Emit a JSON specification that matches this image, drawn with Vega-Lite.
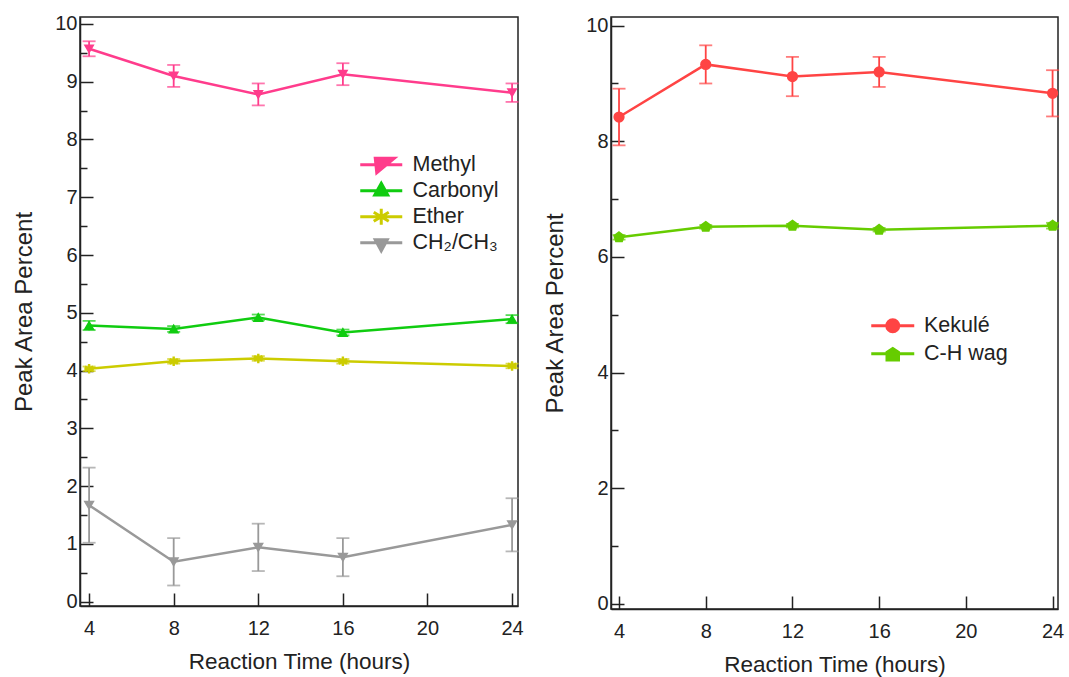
{
  "$schema": "https://vega.github.io/schema/vega-lite/v6.json",
  "background": "white",
  "padding": {"left": 12, "top": 13, "right": 0, "bottom": 5},
  "datasets": {
    "d": [
      {"panel": "A", "series": "Methyl", "hours": 4, "value": 9.57, "err": 0.13},
      {"panel": "A", "series": "Methyl", "hours": 8, "value": 9.10, "err": 0.19},
      {"panel": "A", "series": "Methyl", "hours": 12, "value": 8.78, "err": 0.19},
      {"panel": "A", "series": "Methyl", "hours": 16, "value": 9.13, "err": 0.19},
      {"panel": "A", "series": "Methyl", "hours": 24, "value": 8.81, "err": 0.16},
      {"panel": "A", "series": "Carbonyl", "hours": 4, "value": 4.78, "err": 0.08},
      {"panel": "A", "series": "Carbonyl", "hours": 8, "value": 4.72, "err": 0.05},
      {"panel": "A", "series": "Carbonyl", "hours": 12, "value": 4.92, "err": 0.05},
      {"panel": "A", "series": "Carbonyl", "hours": 16, "value": 4.66, "err": 0.05},
      {"panel": "A", "series": "Carbonyl", "hours": 24, "value": 4.89, "err": 0.07},
      {"panel": "A", "series": "Ether", "hours": 4, "value": 4.03, "err": 0.04},
      {"panel": "A", "series": "Ether", "hours": 8, "value": 4.16, "err": 0.04},
      {"panel": "A", "series": "Ether", "hours": 12, "value": 4.21, "err": 0.04},
      {"panel": "A", "series": "Ether", "hours": 16, "value": 4.16, "err": 0.04},
      {"panel": "A", "series": "Ether", "hours": 24, "value": 4.08, "err": 0.04},
      {"panel": "A", "series": "CH₂/CH₃", "hours": 4, "value": 1.67, "err": 0.65},
      {"panel": "A", "series": "CH₂/CH₃", "hours": 8, "value": 0.69, "err": 0.41},
      {"panel": "A", "series": "CH₂/CH₃", "hours": 12, "value": 0.94, "err": 0.41},
      {"panel": "A", "series": "CH₂/CH₃", "hours": 16, "value": 0.77, "err": 0.33},
      {"panel": "A", "series": "CH₂/CH₃", "hours": 24, "value": 1.33, "err": 0.46},
      {"panel": "B", "series": "Kekulé", "hours": 4, "value": 8.42, "err": 0.49},
      {"panel": "B", "series": "Kekulé", "hours": 8, "value": 9.33, "err": 0.33},
      {"panel": "B", "series": "Kekulé", "hours": 12, "value": 9.12, "err": 0.34},
      {"panel": "B", "series": "Kekulé", "hours": 16, "value": 9.20, "err": 0.26},
      {"panel": "B", "series": "Kekulé", "hours": 24, "value": 8.83, "err": 0.40},
      {"panel": "B", "series": "C-H wag", "hours": 4, "value": 6.34, "err": 0.04},
      {"panel": "B", "series": "C-H wag", "hours": 8, "value": 6.52, "err": 0.03},
      {"panel": "B", "series": "C-H wag", "hours": 12, "value": 6.54, "err": 0.03},
      {"panel": "B", "series": "C-H wag", "hours": 16, "value": 6.47, "err": 0.03},
      {"panel": "B", "series": "C-H wag", "hours": 24, "value": 6.54, "err": 0.05}
    ]
  },
  "config": {
    "font": "Liberation Sans",
    "view": {"stroke": "#222", "strokeWidth": 1.5},
    "axis": {
      "grid": false,
      "domainColor": "#222", "domainWidth": 1.5,
      "tickColor": "#222", "tickWidth": 1.5,
      "labelColor": "#222", "titleColor": "#222",
      "labelFont": "Liberation Sans", "titleFont": "Liberation Sans",
      "labelFontSize": 20, "titleFontWeight": "normal"
    },
    "legend": {
      "labelFont": "Liberation Sans", "labelFontSize": 21.5, "labelColor": "#222",
      "symbolSize": 100, "symbolStrokeWidth": 3, "rowPadding": 4
    }
  },
  "spacing": 93,
  "bounds": "flush",
  "resolve": {
    "scale": {"x": "independent", "y": "independent", "color": "independent"},
    "legend": {"color": "independent"}
  },
  "hconcat": [
    {
      "width": 438,
      "height": 589,
      "data": {"name": "d"},
      "transform": [{"filter": "datum.panel == 'A'"}],
      "encoding": {
        "x": {
          "field": "hours", "type": "quantitative",
          "scale": {"domain": [3.57, 24.28], "nice": false, "zero": false},
          "axis": {"values": [4, 8, 12, 16, 20, 24], "tickSize": -13, "labelPadding": 25, "title": "Reaction Time (hours)", "titleFontSize": 22.5, "titlePadding": 12}
        },
        "y": {
          "field": "value", "type": "quantitative",
          "scale": {"domain": [-0.075, 10.12], "nice": false, "zero": false},
          "axis": {
            "values": [0, 0.5, 1, 1.5, 2, 2.5, 3, 3.5, 4, 4.5, 5, 5.5, 6, 6.5, 7, 7.5, 8, 8.5, 9, 9.5, 10],
            "tickSize": {"condition": {"test": "datum.value % 1 != 0", "value": -7}, "value": -13},
            "labelPadding": 16,
            "labelExpr": "datum.value % 1 == 0 ? '' + datum.value : ''",
            "title": "Peak Area Percent", "titleFontSize": 24, "titlePadding": 18
          }
        },
        "color": {
          "field": "series", "type": "nominal",
          "scale": {"domain": ["Methyl", "Carbonyl", "Ether", "CH₂/CH₃"], "range": ["#FF3C8C", "#10CC10", "#CCCC00", "#999999"]},
          "legend": {
            "orient": "none", "legendX": 290.5, "legendY": 137, "title": null,
            "labelOffset": 20.5, "rowPadding": -3,
            "encoding": {
              "symbols": {
                "shape": {
                  "condition": [
                    {"test": "datum.value == 'Methyl'", "value": "M0,-1.6M0,1.6M-4.2,0H4.2M-1.2,-1.3H2.6L-0.9,1.6Z"},
                    {"test": "datum.value == 'Carbonyl'", "value": "M0,-1.6M0,1.6M-4.2,0H4.2M0,-1.5L1.3,0.85H-1.3Z"},
                    {"test": "datum.value == 'Ether'", "value": "M0,-1.6M0,1.6M-4.2,0H4.2M0,-1.6V1.6M-1.5,-0.9L1.5,0.9M-1.5,0.9L1.5,-0.9"}
                  ],
                  "value": "M0,-1.6M0,1.6M-4.2,0H4.2M-1.2,-0.6H1.2L0,1.6Z"
                },
                "fill": {
                  "condition": [
                    {"test": "datum.value == 'Methyl'", "value": "#FF3C8C"},
                    {"test": "datum.value == 'Carbonyl'", "value": "#10CC10"},
                    {"test": "datum.value == 'Ether'", "value": "#CCCC00"}
                  ],
                  "value": "#999999"
                },
                "stroke": {
                  "condition": [
                    {"test": "datum.value == 'Methyl'", "value": "#FF3C8C"},
                    {"test": "datum.value == 'Carbonyl'", "value": "#10CC10"},
                    {"test": "datum.value == 'Ether'", "value": "#CCCC00"}
                  ],
                  "value": "#999999"
                },
                "strokeWidth": {"value": 3},
                "opacity": {"value": 1}
              }
            }
          }
        }
      },
      "layer": [
        {"mark": {"type": "line", "strokeWidth": 2.5}},
        {
          "mark": {"type": "errorbar", "ticks": {"size": 13}, "thickness": 1.8},
          "encoding": {"yError": {"field": "err"}}
        },
        {
          "transform": [{"filter": "datum.series == 'Methyl'"}],
          "mark": {"type": "point", "filled": true, "shape": "triangle-down", "size": 70, "opacity": 1, "stroke": "#FF3C8C", "strokeWidth": 1.5}
        },
        {
          "transform": [{"filter": "datum.series == 'Carbonyl'"}],
          "mark": {"type": "point", "filled": true, "shape": "triangle-up", "size": 75, "opacity": 1, "stroke": "#10CC10", "strokeWidth": 1.5}
        },
        {
          "transform": [{"filter": "datum.series == 'Ether'"}],
          "mark": {"type": "point", "filled": true, "shape": "M0,-1V1M-0.87,-0.5L0.87,0.5M-0.87,0.5L0.87,-0.5M-1,0H1", "size": 90, "opacity": 1, "stroke": "#CCCC00", "strokeWidth": 2.4}
        },
        {
          "transform": [{"filter": "datum.series == 'CH₂/CH₃'"}],
          "mark": {"type": "point", "filled": true, "shape": "triangle-down", "size": 75, "opacity": 1, "stroke": "#999999", "strokeWidth": 1.5}
        }
      ]
    },
    {
      "width": 447,
      "height": 592,
      "data": {"name": "d"},
      "transform": [{"filter": "datum.panel == 'B'"}],
      "encoding": {
        "x": {
          "field": "hours", "type": "quantitative",
          "scale": {"domain": [3.63, 24.25], "nice": false, "zero": false},
          "axis": {"values": [4, 8, 12, 16, 20, 24], "tickSize": -13, "labelPadding": 25, "title": "Reaction Time (hours)", "titleFontSize": 22.5, "titlePadding": 12}
        },
        "y": {
          "field": "value", "type": "quantitative",
          "scale": {"domain": [-0.09, 10.15], "nice": false, "zero": false},
          "axis": {
            "values": [0, 1, 2, 3, 4, 5, 6, 7, 8, 9, 10],
            "tickSize": {"condition": {"test": "datum.value % 2 != 0", "value": -7}, "value": -13},
            "labelPadding": 16,
            "labelExpr": "datum.value % 2 == 0 ? '' + datum.value : ''",
            "title": "Peak Area Percent", "titleFontSize": 24, "titlePadding": 18
          }
        },
        "color": {
          "field": "series", "type": "nominal",
          "scale": {"domain": ["Kekulé", "C-H wag"], "range": ["#FF4444", "#66CC00"]},
          "legend": {
            "orient": "none", "legendX": 271, "legendY": 298, "title": null,
            "labelOffset": 20.5,
            "encoding": {
              "symbols": {
                "shape": {
                  "condition": {"test": "datum.value == 'Kekulé'", "value": "M-4.3,0H4.3M-1.2,0A1.2,1.2 0 1,0 1.2,0A1.2,1.2 0 1,0 -1.2,0Z"},
                  "value": "M-4.3,0H4.3M0,-1.05L1.15,-0.3V1.25H-1.15V-0.3Z"
                },
                "fill": {"condition": {"test": "datum.value == 'Kekulé'", "value": "#FF4444"}, "value": "#66CC00"},
                "stroke": {"condition": {"test": "datum.value == 'Kekulé'", "value": "#FF4444"}, "value": "#66CC00"},
                "strokeWidth": {"value": 3},
                "opacity": {"value": 1}
              }
            }
          }
        }
      },
      "layer": [
        {"mark": {"type": "line", "strokeWidth": 2.5}},
        {
          "mark": {"type": "errorbar", "ticks": {"size": 13}, "thickness": 1.8},
          "encoding": {"yError": {"field": "err"}}
        },
        {
          "transform": [{"filter": "datum.series == 'Kekulé'"}],
          "mark": {"type": "point", "filled": true, "shape": "circle", "size": 95, "opacity": 1, "stroke": "#FF4444", "strokeWidth": 1.5}
        },
        {
          "transform": [{"filter": "datum.series == 'C-H wag'"}],
          "mark": {"type": "point", "filled": true, "shape": "M0,-1L0.95,-0.3L0.6,0.8H-0.6L-0.95,-0.3Z", "size": 110, "opacity": 1, "stroke": "#66CC00", "strokeWidth": 1.5}
        }
      ]
    }
  ]
}
